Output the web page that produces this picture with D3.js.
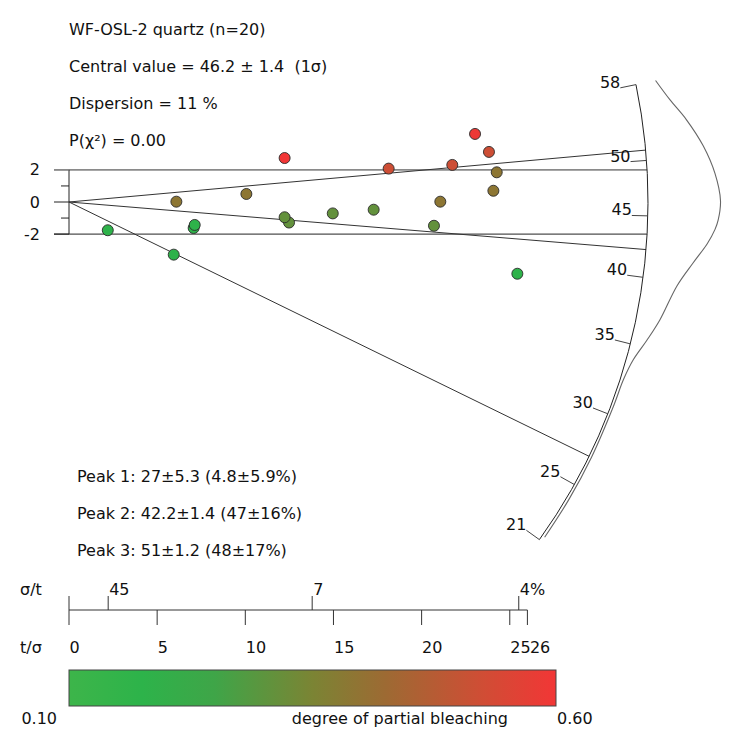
<!DOCTYPE html>
<html>
<head>
<meta charset="utf-8">
<script src="https://cdn.jsdelivr.net/npm/d3@7"></script>
<style>
  body { margin: 0; background: #fff; }
  text { font-family: "DejaVu Sans", Verdana, sans-serif; font-size: 16px; fill: #111; }
</style>
</head>
<body>
<svg id="chart" width="737" height="740"></svg>
<script>
// summary values
var sampleName = "WF-OSL-2 quartz";
var centralValue = 46.2, centralErr = 1.4, dispersion = 11, pChi = 0.00;

// mixture model peaks
var peakValues = [27, 42.2, 51];
var peakErrs = [5.3, 1.4, 1.2];
var peakProps = [4.8, 47, 48];
var peakPropErrs = [5.9, 16, 17];

// grains: precision (t/sigma), standardised estimate, degree of partial bleaching
var precision = [2.20, 6.09, 7.07, 7.13, 10.06, 12.23, 12.48, 12.23, 5.94, 14.96, 17.28, 18.13, 21.06, 20.70, 21.74, 23.03, 23.82, 24.26, 24.07, 25.43];
var zScore    = [-1.76, 0.02, -1.62, -1.43, 0.50, 2.74, -1.28, -0.95, -3.28, -0.71, -0.48, 2.08, 0.02, -1.48, 2.31, 4.24, 3.12, 1.85, 0.70, -4.47];
var bleaching = [0.18, 0.39, 0.18, 0.18, 0.39, 0.60, 0.31, 0.31, 0.18, 0.31, 0.31, 0.52, 0.39, 0.31, 0.52, 0.59, 0.52, 0.39, 0.39, 0.18];

// radial scale and axis ticks
var arcTicks = [21, 25, 30, 35, 40, 45, 50, 58];
var precisionTicks = [0, 5, 10, 15, 20, 25, 26];
var errorTicks = [45, 7.25, 3.92];          // sigma/t in %
var errorLabels = ["45", "7", "4%"];
var zTicks = [-2, -1, 0, 1, 2];

// density curve read along the radial scale
var kdeAge     = [58, 55.7, 53.5, 50.9, 48.5, 46.3, 44.8, 44.1, 43.0, 41.5, 39.7, 37.1, 35.5, 34.0, 32.5, 30.6, 27, 24, 21.3];
var kdeDensity = [0.25, 0.40, 0.59, 0.79, 0.93, 1.0, 0.97, 0.93, 0.83, 0.65, 0.46, 0.30, 0.18, 0.064, 0.01, 0, 0, 0.003, 0.006];

// colour bar
var bleachRange = [0.10, 0.60];
var colourStops = [0, 0.15, 0.3, 0.5, 0.65, 0.85, 1];
var colourValues = ["#3db54a", "#2db34a", "#3fa548", "#7b8434", "#9d6a33", "#d04d35", "#f23636"];

var svg = d3.select("#chart");

var x = d3.scaleLinear().domain([0, 26]).range([69, 527.4]);
var y = d3.scaleLinear().domain([-2, 2]).range([234.1, 169.9]);
var R = 579;
var ux = x(1) - x(0), uy = y(0) - y(1);

// unit direction (pixels) of the line through the origin for a value
function dir(v) {
  var s = Math.log(v / centralValue);
  var dx = ux, dy = uy * s;
  var L = Math.hypot(dx, dy);
  return [dx / L, -dy / L];
}
function radial(v, r) {
  var d = dir(v);
  return [x(0) + d[0] * r, y(0) + d[1] * r];
}

var colour = d3.scaleLinear()
  .domain(colourStops.map(function (t) { return bleachRange[0] + t * (bleachRange[1] - bleachRange[0]); }))
  .range(colourValues);

// text block
var info = [
  sampleName + " (n=" + precision.length + ")",
  "Central value = " + centralValue + " \u00b1 " + centralErr + "  (1\u03c3)",
  "Dispersion = " + dispersion + " %",
  "P(\u03c7\u00b2) = " + pChi.toFixed(2)
];
svg.selectAll(".info").data(info).enter().append("text")
  .attr("class", "info")
  .attr("x", 69)
  .attr("y", function (d, i) { return 35 + i * 37; })
  .style("white-space", "pre")
  .text(function (d) { return d; });

// +-2 band lines
var halfLen = Math.sqrt(R * R - Math.pow(y(0) - y(2), 2));
svg.append("line")
  .attr("x1", x(0) - 15).attr("x2", x(0) + halfLen)
  .attr("y1", y(2)).attr("y2", y(2))
  .attr("stroke", "#8a8a8a").attr("stroke-width", 1.6);
svg.append("line")
  .attr("x1", x(0) - 15).attr("x2", x(0) + halfLen)
  .attr("y1", y(-2)).attr("y2", y(-2))
  .attr("stroke", "#222").attr("stroke-width", 1);

// z axis
svg.append("line")
  .attr("x1", x(0)).attr("x2", x(0))
  .attr("y1", y(2)).attr("y2", y(-2))
  .attr("stroke", "#222");
svg.selectAll(".ztick").data(zTicks).enter().append("line")
  .attr("x1", function (d) { return d % 2 === 0 ? x(0) - 15 : x(0) - 8; })
  .attr("x2", x(0))
  .attr("y1", function (d) { return y(d); })
  .attr("y2", function (d) { return y(d); })
  .attr("stroke", function (d) { return d === 2 ? "#8a8a8a" : "#222"; });
svg.selectAll(".zlab").data([-2, 0, 2]).enter().append("text")
  .attr("x", 40)
  .attr("y", function (d) { return y(d) + 5.5; })
  .attr("text-anchor", "end")
  .text(function (d) { return d; });

// peak lines
svg.selectAll(".peak").data(peakValues).enter().append("line")
  .attr("x1", x(0)).attr("y1", y(0))
  .attr("x2", function (d) { return radial(d, R)[0]; })
  .attr("y2", function (d) { return radial(d, R)[1]; })
  .attr("stroke", "#333").attr("stroke-width", 1);

// radial scale arc
var dTop = dir(d3.max(arcTicks)), dBot = dir(d3.min(arcTicks));
var arcPath = d3.path();
arcPath.arc(x(0), y(0), R, Math.atan2(dTop[1], dTop[0]), Math.atan2(dBot[1], dBot[0]), false);
svg.append("path").attr("d", arcPath.toString())
  .attr("fill", "none").attr("stroke", "#222").attr("stroke-width", 1);

svg.selectAll(".atick").data(arcTicks).enter().append("line")
  .attr("x1", function (d) { return radial(d, R - 16)[0]; })
  .attr("y1", function (d) { return radial(d, R - 16)[1]; })
  .attr("x2", function (d) { return radial(d, R)[0]; })
  .attr("y2", function (d) { return radial(d, R)[1]; })
  .attr("stroke", "#444");
svg.selectAll(".alab").data(arcTicks).enter().append("text")
  .attr("x", function (d) { return radial(d, R - 16)[0]; })
  .attr("y", function (d) { return radial(d, R - 16)[1]; })
  .attr("text-anchor", "end")
  .text(function (d) { return d; });

// density curve outside the arc
var kdePts = kdeAge.map(function (v, i) { return radial(v, R + 2.5 + 70 * kdeDensity[i]); });
svg.append("path")
  .attr("d", d3.line().curve(d3.curveCatmullRom)(kdePts))
  .attr("fill", "none").attr("stroke", "#666").attr("stroke-width", 1.1);

// grains
svg.selectAll(".grain").data(precision).enter().append("circle")
  .attr("cx", function (d) { return x(d); })
  .attr("cy", function (d, i) { return y(zScore[i]); })
  .attr("r", 5.5)
  .attr("fill", function (d, i) { return colour(bleaching[i]); })
  .attr("stroke", "#2a2a2a").attr("stroke-width", 0.9);

// peak labels
svg.selectAll(".plab").data(peakValues).enter().append("text")
  .attr("x", 77)
  .attr("y", function (d, i) { return 482 + i * 37; })
  .text(function (d, i) {
    return "Peak " + (i + 1) + ": " + d + "\u00b1" + peakErrs[i] + " (" + peakProps[i] + "\u00b1" + peakPropErrs[i] + "%)";
  });

// precision axis
var axisY = 610;
svg.append("line")
  .attr("x1", x(0)).attr("x2", x(26))
  .attr("y1", axisY).attr("y2", axisY)
  .attr("stroke", "#333");
svg.selectAll(".ptick").data(precisionTicks).enter().append("line")
  .attr("x1", function (d) { return x(d); }).attr("x2", function (d) { return x(d); })
  .attr("y1", function (d) { return d === 0 ? axisY - 14 : axisY; })
  .attr("y2", axisY + 15)
  .attr("stroke", "#333");
svg.selectAll(".plabel").data(precisionTicks).enter().append("text")
  .attr("x", function (d, i) { return x(d) + (i === precisionTicks.length - 1 ? 2.5 : 0.5); })
  .attr("y", 653)
  .text(function (d) { return d; });
svg.selectAll(".etick").data(errorTicks).enter().append("line")
  .attr("x1", function (d) { return x(100 / d); }).attr("x2", function (d) { return x(100 / d); })
  .attr("y1", axisY - 14).attr("y2", axisY)
  .attr("stroke", "#333");
svg.selectAll(".elabel").data(errorTicks).enter().append("text")
  .attr("x", function (d) { return x(100 / d) + 1; })
  .attr("y", 595)
  .text(function (d, i) { return errorLabels[i]; });
svg.append("text").attr("x", 20).attr("y", 595).text("\u03c3/t");
svg.append("text").attr("x", 20).attr("y", 653).text("t/\u03c3");

// colour bar
var cb = d3.scaleLinear().domain(bleachRange).range([69, 556]);
var grad = svg.append("defs").append("linearGradient").attr("id", "bleach");
grad.selectAll("stop").data(colourStops).enter().append("stop")
  .attr("offset", function (d) { return d; })
  .attr("stop-color", function (d, i) { return colourValues[i]; });
svg.append("rect")
  .attr("x", cb(bleachRange[0])).attr("width", cb(bleachRange[1]) - cb(bleachRange[0]))
  .attr("y", 670).attr("height", 36)
  .attr("fill", "url(#bleach)").attr("stroke", "#444").attr("stroke-width", 1);
svg.append("text").attr("x", cb(bleachRange[0]) - 12).attr("y", 724).attr("text-anchor", "end")
  .text(bleachRange[0].toFixed(2));
svg.append("text").attr("x", cb(bleachRange[1]) + 1).attr("y", 724)
  .text(bleachRange[1].toFixed(2));
svg.append("text").attr("x", 508).attr("y", 724).attr("text-anchor", "end")
  .text("degree of partial bleaching");
</script>
</body>
</html>
